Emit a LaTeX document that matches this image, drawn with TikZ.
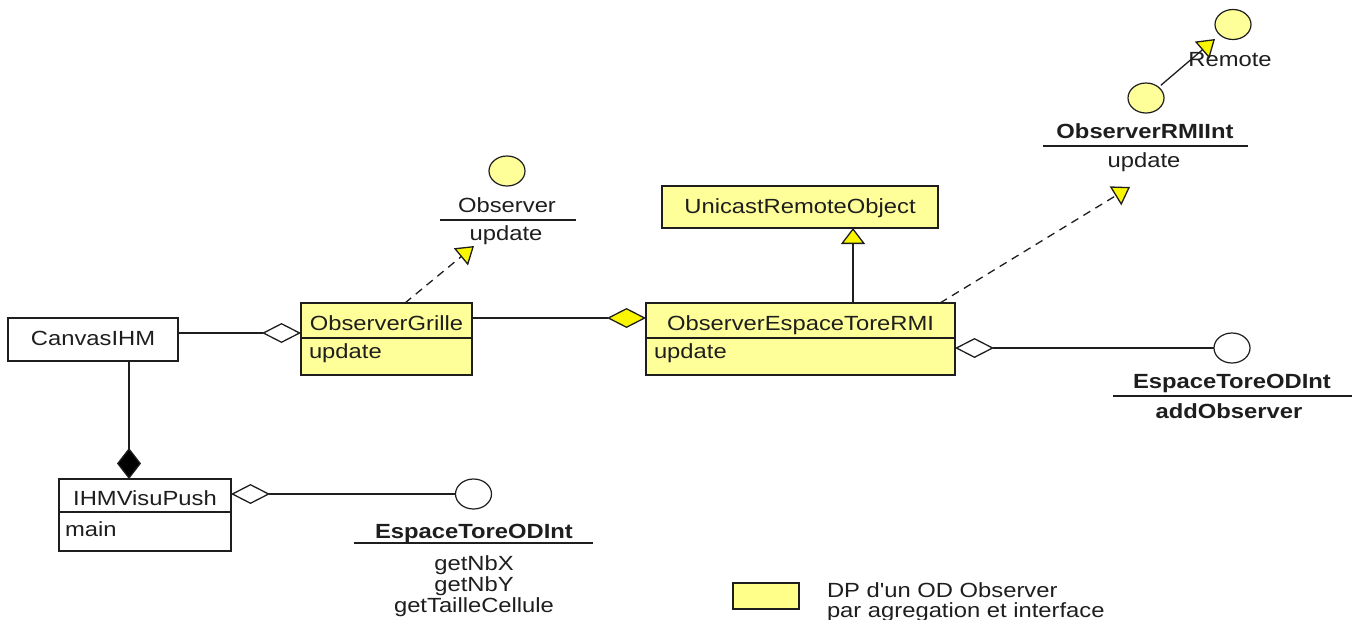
\documentclass[tikz,border=0pt]{standalone}
\usepackage{fontspec}
\setmainfont{Liberation Sans}[FakeStretch=1.16, Ligatures=TeXOff]
\usetikzlibrary{arrows.meta,calc,shapes.geometric}
\definecolor{boxyel}{RGB}{255,255,153}
\definecolor{tipyel}{RGB}{250,245,0}
\definecolor{ink}{RGB}{30,30,30}
\begin{document}
\begin{tikzpicture}[x=1pt,y=-1pt,
  every node/.style={font=\fontsize{20.5}{24}\selectfont, text=ink, inner sep=0pt, outer sep=0pt},
  cls/.style={draw=ink, line width=1.4pt, fill=boxyel},
  wcls/.style={draw=ink, line width=1.4pt, fill=white},
  sep/.style={draw=ink, line width=1.3pt},
  lbl/.style={anchor=base},
  lblw/.style={anchor=base west},
  iface/.style={ellipse, draw=ink, line width=1.2pt, minimum width=36pt, minimum height=30pt},
  conn/.style={draw=ink, line width=1.3pt},
  realiz/.style={conn, dash pattern=on 8pt off 6pt, -{Triangle[fill=tipyel, length=17pt, width=22pt]}},
  gen/.style={conn, -{Triangle[fill=tipyel, length=16pt, width=24pt]}},
  aggr/.style={conn, -{Diamond[fill=white, length=39pt, width=20pt]}},
  aggrs/.style={conn, {Diamond[fill=white, length=39pt, width=20pt]}-},
  compo/.style={conn, -{Diamond[fill=black, length=31pt, width=24pt]}},
  ycompo/.style={conn, -{Diamond[fill=tipyel, length=39pt, width=20pt]}}
]
\useasboundingbox (0,0) rectangle (1359,619);

% ---------- classes ----------
\node[wcls, minimum width=170pt, minimum height=43pt] (cv) at (93,339.5) {};
\node[lbl] (cvt) at (93,345) {CanvasIHM};

\node[cls, minimum width=171pt, minimum height=72pt] (og) at (386.5,339) {};
\draw[sep] ($(og.north west)+(0,35)$) -- ($(og.north east)+(0,35)$);
\node[lbl] (ogt) at (386.5,330) {ObserverGrille};
\node[lblw] (ogm) at (309,358) {update};

\node[cls, minimum width=309pt, minimum height=72pt] (oe) at (800.5,339) {};
\draw[sep] ($(oe.north west)+(0,35)$) -- ($(oe.north east)+(0,35)$);
\node[lbl] (oet) at (800.5,330) {ObserverEspaceToreRMI};
\node[lblw] (oem) at (654,358) {update};

\node[cls, minimum width=276pt, minimum height=42pt] (uro) at (800,207) {};
\node[lbl] (urot) at (800,213) {UnicastRemoteObject};

\node[wcls, minimum width=172pt, minimum height=72pt] (ih) at (145,515) {};
\draw[sep] ($(ih.north west)+(0,33)$) -- ($(ih.north east)+(0,33)$);
\node[lbl] (iht) at (145,505) {IHMVisuPush};
\node[lblw] (ihm) at (65,536) {main};

% ---------- interfaces ----------
\node[iface, fill=boxyel] (obs) at (507,171) {};
\node[lbl] (obsn) at (507,212) {Observer};
\draw[sep] (440,220) -- (576,220);
\node[lbl] (obsm) at (506,240) {update};

\node[iface, fill=boxyel] (rmi) at (1146,98) {};
\node[lbl, font=\fontsize{20.5}{24}\selectfont\bfseries] (rmin) at (1145,138) {ObserverRMIInt};
\draw[sep] (1043,146) -- (1248,146);
\node[lbl] (rmim) at (1144,167) {update};

\node[iface, fill=boxyel] (rem) at (1233,24.5) {};
\node[lbl] (remt) at (1230,66) {Remote};

\node[iface, fill=white] (etr) at (1232,348) {};
\node[lbl, font=\fontsize{20.5}{24}\selectfont\bfseries] (etrn) at (1232,388) {EspaceToreODInt};
\draw[sep] (1113,396) -- (1352,396);
\node[lbl, font=\fontsize{20.5}{24}\selectfont\bfseries] (etrm) at (1229,418) {addObserver};

\node[iface, fill=white] (etb) at (473.5,494) {};
\node[lbl, font=\fontsize{20.5}{24}\selectfont\bfseries] (etbn) at (474,538) {EspaceToreODInt};
\draw[sep] (354,543) -- (593,543);
\node[lbl] (etbm1) at (474,570) {getNbX};
\node[lbl] (etbm2) at (474,591) {getNbY};
\node[lbl] (etbm3) at (474,612) {getTailleCellule};

% ---------- connectors ----------
\draw[aggr] ([yshift=6.5pt]cv.east) -- ([yshift=6pt]og.west);
\draw[ycompo] ([yshift=21pt]og.east) -- ([yshift=21pt]oe.west);
\draw[aggrs] ([yshift=-9pt]oe.east) -- (etr.west);
\draw[gen] ([xshift=52.5pt]oe.north) -- ([xshift=53pt]uro.south);
\draw[compo] ([xshift=36pt]cv.south) -- ([xshift=-16pt]ih.north);
\draw[aggrs] ([yshift=21pt]ih.east) -- (etb.west);

\coordinate (obsTip) at (474,246);
\draw[realiz] ([xshift=18.5pt]og.north) -- (obsTip);
\coordinate (rmiTip) at (1130,187);
\draw[realiz] ([xshift=139.5pt]oe.north) -- (rmiTip);
\coordinate (remTip) at (1215,39);
\draw[conn, shorten <=3pt, -{Triangle[fill=tipyel, length=17pt, width=22pt]}] (rmi) -- (remTip);

% ---------- legend ----------
\node[cls, fill=boxyel!90!yellow, minimum width=66pt, minimum height=26pt] (leg) at (766,596) {};
\node[lblw] (leg1) at (827,597) {DP d'un OD Observer};
\node[lblw] (leg2) at (827,617) {par agregation et interface};
\end{tikzpicture}
\end{document}
